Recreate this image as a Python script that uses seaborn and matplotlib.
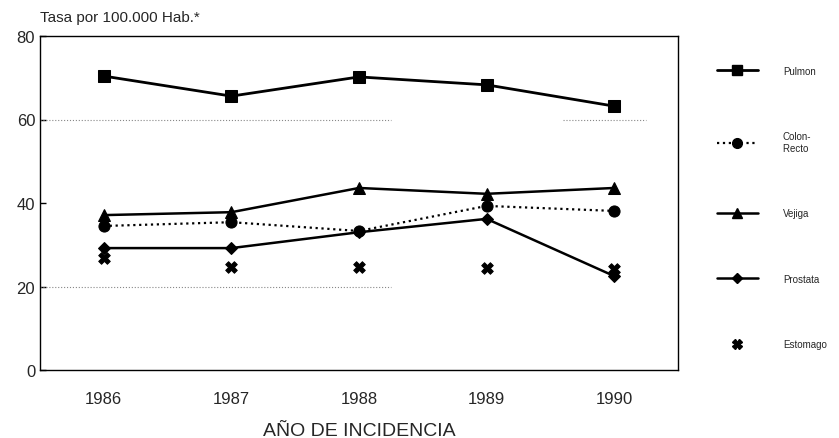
import matplotlib
matplotlib.use("Agg")
import matplotlib.pyplot as plt
import seaborn as sns
import pandas as pd
from matplotlib.lines import Line2D

years = ["1986", "1987", "1988", "1989", "1990"]
pulmon = [70.4, 65.6, 70.2, 68.3, 63.2]
colon_recto = [34.5, 35.4, 33.3, 39.3, 38.1]
vejiga = [37.1, 37.8, 43.6, 42.2, 43.6]
prostata = [29.2, 29.2, 33.0, 36.2, 22.5]
estomago = [26.8, 24.7, 24.7, 24.4, 24.2]
series_names = ["Pulmon", "Colon-\nRecto  ", "Vejiga", "Prostata", "Estomago"]

sns.set_theme(style="white")
plt.rcParams["font.family"] = ["Liberation Sans", "DejaVu Sans"]

fig = plt.figure(figsize=(8.39, 4.39), dpi=100)
ax = fig.add_axes([40/839, 1-371/439, (678-40)/839, (371-37)/439])

styles = [
    dict(marker="s", ls="-", lw=2.0, ms=8),
    dict(marker="o", ls=":", lw=1.6, ms=8),
    dict(marker="^", ls="-", lw=1.8, ms=8),
    dict(marker="D", ls="-", lw=1.8, ms=6),
    dict(marker="X", ls="none", lw=0, ms=8),
]
all_vals = [pulmon, colon_recto, vejiga, prostata, estomago]
xs = list(range(len(years)))
handles = []
for name, vals, st in zip(series_names, all_vals, styles):
    df = pd.DataFrame({"x": xs, "y": vals})
    if st["ls"] == "none":
        sns.scatterplot(data=df, x="x", y="y", ax=ax, marker="X", s=70,
                        color="black", edgecolor="black", zorder=3)
    else:
        sns.lineplot(data=df, x="x", y="y", ax=ax, color="black",
                     linestyle=st["ls"], linewidth=st["lw"], marker=st["marker"],
                     markersize=st["ms"], markeredgecolor="black", zorder=3)
    handles.append(Line2D([0], [0], color="black", linestyle=st["ls"],
                          linewidth=st["lw"] if st["lw"] else 0,
                          marker=st["marker"], markersize=st["ms"] - 1))

# faint dotted scan gridlines
ax.axhline(60, xmin=0.0, xmax=0.55, color="#888888", ls=":", lw=0.8, zorder=1)
ax.axhline(60, xmin=0.82, xmax=0.95, color="#888888", ls=":", lw=0.8, zorder=1)
ax.axhline(20, xmin=0.0, xmax=0.55, color="#888888", ls=":", lw=0.8, zorder=1)

ax.set_xlim(-0.5, 4.5)
ax.set_ylim(0, 80)
ax.set_xticks(xs)
ax.set_xticklabels(years, fontsize=12)
ax.set_xticks([0.5, 1.5, 2.5, 3.5], minor=True)
ax.tick_params(axis="x", which="major", length=0, pad=15)
ax.tick_params(axis="x", which="minor", length=6, width=1, direction="out", color="black")
ax.set_yticks([0, 20, 40, 60, 80])
ax.tick_params(axis="y", which="major", length=4, width=1, direction="in", labelsize=12, color="black", left=True)
ax.set_xlabel("AÑO DE INCIDENCIA", fontsize=14, labelpad=12)
ax.set_ylabel("")
for sp in ax.spines.values():
    sp.set_color("black")
    sp.set_linewidth(1.0)

fig.text(40/839, 1-18/439, "Tasa por 100.000 Hab.*", fontsize=11, va="center", ha="left")

leg = fig.legend(handles, series_names, loc="upper left",
                 bbox_to_anchor=(708/839, 1-58/439), frameon=False,
                 fontsize=7, handlelength=4.2, labelspacing=5.7, handletextpad=2.6)

fig.savefig("out.png", dpi=100)
